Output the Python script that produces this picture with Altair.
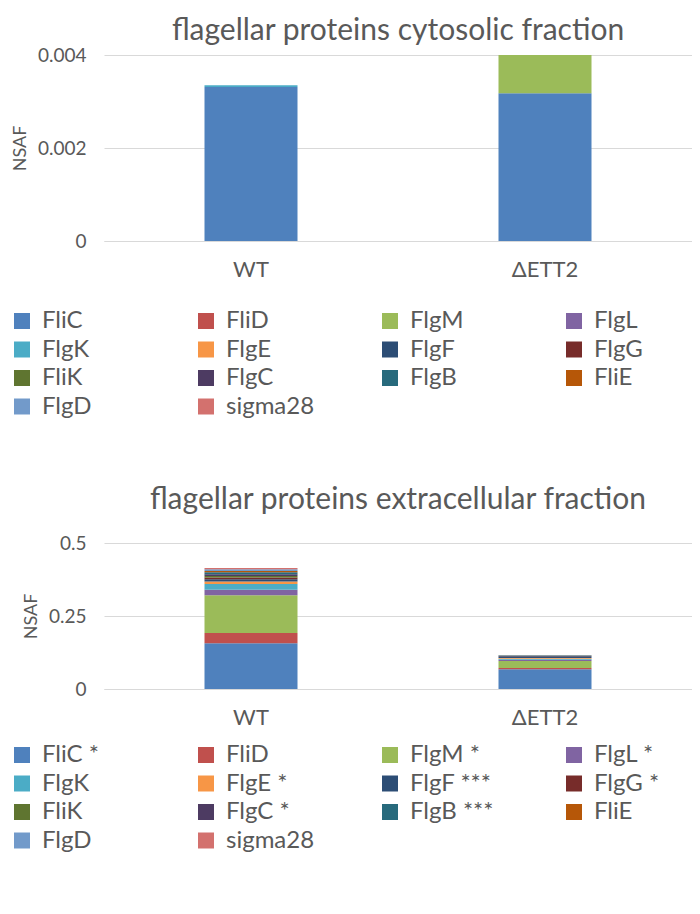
import altair as alt
import pandas as pd

proteins = ["FliC", "FliD", "FlgM", "FlgL", "FlgK", "FlgE", "FlgF", "FlgG",
            "FliK", "FlgC", "FlgB", "FliE", "FlgD", "sigma28"]
ext_labels = ["FliC *", "FliD", "FlgM *", "FlgL *", "FlgK", "FlgE *", "FlgF ***", "FlgG *",
              "FliK", "FlgC *", "FlgB ***", "FliE", "FlgD", "sigma28"]
colors = ["#4F81BD", "#C0504D", "#9BBB59", "#8064A2", "#4BACC6", "#F79646", "#2C4D75", "#772C2A",
          "#5F7530", "#4D3B62", "#276A7C", "#B65708", "#729ACA", "#D3716E"]
strains = ["WT", "\u0394ETT2"]

cyto_wt = [0.00331, 0, 0, 0, 0.00004, 0, 0, 0, 0, 0, 0, 0, 0, 0]
cyto_ko = [0.00318, 0, 0.00082, 0, 0, 0, 0, 0, 0, 0, 0, 0, 0, 0]
ext_wt = [0.157, 0.035, 0.129, 0.019, 0.020, 0.008, 0.008, 0.006, 0.005, 0.006, 0.007, 0.004, 0.006, 0.004]
ext_ko = [0.068, 0.004, 0.024, 0.004, 0.004, 0.002, 0.006, 0.001, 0.001, 0.001, 0.001, 0, 0, 0]

FONT = "Lato"
GRAY = "#595959"


def frame(labels, wt, ko):
    rows = []
    for s, vals in zip(strains, [wt, ko]):
        for i, (p, v) in enumerate(zip(labels, vals)):
            rows.append({"strain": s, "protein": p, "idx": i, "value": v})
    return pd.DataFrame(rows)


def panel(df, labels, title, dmax, ticks, h, leg_y, t_off):
    return alt.Chart(df).mark_bar(size=93).encode(
        x=alt.X("strain:N", sort=strains, title=None,
                scale=alt.Scale(paddingInner=0, paddingOuter=0),
                axis=alt.Axis(labelAngle=0, labelFontSize=22, labelColor=GRAY, ticks=False,
                              domainColor="#D9D9D9", labelPadding=18, labelFont=FONT)),
        y=alt.Y("value:Q", stack="zero", title="NSAF",
                scale=alt.Scale(domain=[0, dmax], nice=False),
                axis=alt.Axis(values=ticks, format=".3~f", labelFontSize=19, labelColor=GRAY,
                              ticks=False, domain=False, gridColor="#D9D9D9", titleFontSize=18,
                              titleColor=GRAY, titleFontWeight="normal", labelPadding=18,
                              titlePadding=8, labelFont=FONT, titleFont=FONT)),
        color=alt.Color("protein:N", scale=alt.Scale(domain=labels, range=colors),
                        legend=alt.Legend(title=None, orient="none", legendX=-94, legendY=leg_y,
                                          columns=4, direction="horizontal", gridAlign="all",
                                          padding=0, symbolType="square", symbolSize=256,
                                          symbolStrokeWidth=0, labelFontSize=24, labelColor=GRAY,
                                          labelFont=FONT, rowPadding=4.5, columnPadding=63,
                                          labelOffset=8, symbolOpacity=1)),
        order=alt.Order("idx:Q", sort="ascending"),
    ).properties(
        width=588, height=h,
        title=alt.TitleParams(title, fontSize=30, color=GRAY, font=FONT, fontWeight="normal",
                              anchor="middle", offset=t_off),
    )


top = panel(frame(proteins, cyto_wt, cyto_ko), proteins,
            "flagellar proteins cytosolic fraction", 0.004, [0, 0.002, 0.004], 186, 254, 0)
bottom = panel(frame(ext_labels, ext_wt, ext_ko), ext_labels,
               "flagellar proteins extracellular fraction", 0.5, [0, 0.25, 0.5], 146, 200, 19)

chart = alt.vconcat(top, bottom, spacing=66).resolve_scale(color="independent").configure_view(
    stroke=None).properties(padding={"left": 2, "top": 8, "right": 0, "bottom": 0})

chart.save("out.html", embed_options={"renderer": "svg", "actions": False})
